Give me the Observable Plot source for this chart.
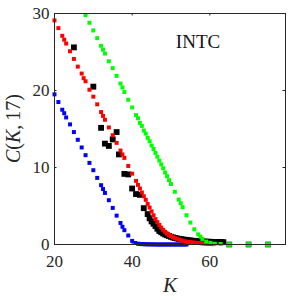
<!DOCTYPE html>
<html><head><meta charset="utf-8">
<script src="https://cdn.jsdelivr.net/npm/d3@7"></script>
<script src="https://cdn.jsdelivr.net/npm/@observablehq/plot@0.6"></script>
<style>body{margin:0;background:#fff}#chart{width:300px;height:300px}</style>
</head><body><div id="chart"></div>
<script>
// [K, C(K,17)]
const blue = [[20,19.5],[21,18.5],[22,17.5],[22.5,17.05],[23,16.5],[24,15.6],[25,14.6],[26,13.6],[27,12.6],[28,11.6],[29,10.6],[30,9.65],[31,8.65],[32,7.7],[32.5,7.2],[33,6.7],[34,5.75],[35,4.75],[36,3.75],[37,2.8],[37.5,2.3],[38,1.86],[39,1.17],[40,0.47],[40.8,0.2],[41.5,0.1],[42,0.07],[42.5,0.05],[43,0.04],[43.5,0.03],[44,0.02],[44.5,0.02],[45,0.01],[45.5,0.01],[46,0.01],[46.5,0],[47,0],[47.5,0],[48,0],[48.5,0],[49,0],[49.5,0],[50,0],[50.5,0],[51,0],[51.5,0],[52,0],[52.5,0],[53,0],[53.5,0],[54,0]];
const red = [[20,29.1],[21,28.1],[22,27.1],[22.5,26.6],[23,26.1],[24,25.1],[25,24.1],[26,23.1],[27,22.2],[27.5,21.6],[28,21.2],[29,20.1],[30,19.2],[31,18.2],[32,17.2],[32.5,16.7],[33,16.2],[34,15.2],[35,14.2],[36,13.2],[37,12.2],[37.5,11.7],[38,11.25],[39,10.2],[40,9.2],[41,8.26],[41.5,7.74],[42,7.27],[42.5,6.75],[43,6.27],[43.5,5.8],[44,5.27],[44.5,4.8],[45,4.3],[45.5,3.8],[46,3.3],[46.5,2.9],[47,2.55],[47.5,2.2],[48,1.9],[48.5,1.64],[49,1.43],[49.5,1.25],[50,1.1],[50.5,0.95],[51,0.85],[51.5,0.74],[52,0.65],[52.5,0.56],[53,0.48],[53.5,0.42],[54,0.37],[54.5,0.33],[55,0.3],[55.5,0.27],[56,0.24],[56.5,0.22],[57,0.2],[57.5,0.18],[58,0.16],[58.5,0.14],[59,0.12],[59.5,0.1],[60,0.08],[60.5,0.06],[61,0.05]];
const black = [[25,25.6],[30,20.5],[32,15.15],[33,13.1],[34,12.8],[35,13.65],[36,14.6],[36.6,11.7],[38,9.17],[39,9.1],[40,7.27],[41,6.55],[42,6.45],[43,4.72],[44,3.95],[44.5,3.4],[45,3.0],[45.5,2.7],[46,2.4],[46.5,2.05],[47,1.75],[47.5,1.6],[48,1.43],[48.5,1.3],[49,1.2],[49.5,1.1],[50,1.0],[50.5,0.92],[51,0.85],[51.5,0.79],[52,0.74],[52.5,0.7],[53,0.66],[53.5,0.62],[54,0.58],[54.5,0.55],[55,0.52],[55.5,0.49],[56,0.47],[56.5,0.45],[57,0.43],[57.5,0.41],[58,0.39],[58.5,0.38],[59,0.37],[59.5,0.36],[60,0.35],[60.5,0.34],[61,0.33],[61.5,0.33],[62,0.32],[62.5,0.32],[63,0.31],[63.5,0.3]];
const green = [[28,29.8],[29,28.8],[30,27.8],[31,26.8],[32,25.8],[32.5,25.3],[33,24.8],[34,23.8],[35,22.9],[36,21.9],[37,20.9],[37.5,20.4],[38,19.8],[39,18.8],[40,17.8],[41,16.8],[41.5,16.4],[42,15.8],[42.5,15.4],[43,14.8],[43.5,14.4],[44,13.85],[44.5,13.4],[45,12.85],[45.5,12.4],[46,11.9],[46.5,11.4],[47,10.9],[47.5,10.4],[48,9.9],[48.5,9.35],[49,8.87],[49.5,8.35],[50,7.85],[51,6.85],[52,5.84],[52.5,5.36],[53,4.85],[54,3.8],[55,2.85],[56,1.98],[57,1.32],[57.6,1.02],[58.1,0.72],[59.1,0.38],[60.2,0.22],[61.3,0.1],[62.8,0.06]];
const greenEnd = [[65,0],[70,0],[75,0]];
const xTicks = [20,40,60];
const yTicks = [0,10,20,30];
const title = "INTC";
const xLabel = "K";

const W=300, H=300, mL=54, mR=15, mT=13, mB=56;
const innerW = W-mL-mR, innerH = H-mT-mB;
const tk = 2.5;
const ink = "#262626";
const sq = (data, fill, r, extra={}) => Plot.dot(data, {x: d=>d[0], y: d=>d[1], symbol:"square", r, fill, stroke:null, ...extra});

const svg = Plot.plot({
  width:W, height:H, marginLeft:mL, marginRight:mR, marginTop:mT, marginBottom:mB,
  style:{fontFamily:"'Liberation Serif', serif", fontSize:"17px", background:"#fff", color:ink},
  x:{domain:[20,79.5]}, y:{domain:[0,30]},
  marks:[
    Plot.axisX(xTicks,{tickSize:0, tickPadding:10, label:null, tickFormat:d=>String(d)}),
    Plot.axisY(yTicks,{tickSize:0, tickPadding:5, label:null, tickFormat:d=>String(d)}),
    Plot.tickX(xTicks,{x:d=>d, insetTop:innerH-tk, stroke:ink}),
    Plot.tickX(xTicks,{x:d=>d, insetBottom:innerH-tk, stroke:ink}),
    Plot.tickY(yTicks,{y:d=>d, insetRight:innerW-tk, stroke:ink}),
    Plot.tickY(yTicks,{y:d=>d, insetLeft:innerW-tk, stroke:ink}),
    sq(blue, "#0000ff", 2.25),
    sq(black, "#000000", 3.3),
    sq(red, "#ff0000", 2.25),
    sq(green, "#00ff00", 2.25),
    sq(greenEnd, "#00ff00", 3.0, {stroke:"#555", strokeWidth:0.6}),
    Plot.frame({stroke:ink, strokeWidth:1}),
    Plot.text([title],{frameAnchor:"top", dx:28, dy:28.5, lineAnchor:"middle", text:d=>d, fontSize:19, fill:"#111"}),
    Plot.text([xLabel],{frameAnchor:"bottom", dy:41, lineAnchor:"middle", text:d=>d, fontSize:21, fontStyle:"italic", fill:ink})
  ]
});

// y label with mixed italic
const yl = d3.select(svg).append("text")
  .attr("transform", `translate(20,${mT+innerH/2}) rotate(-90)`)
  .attr("text-anchor","middle")
  .attr("font-family","'Liberation Serif', serif")
  .attr("font-size",20)
  .attr("fill",ink);
yl.append("tspan").attr("font-style","italic").text("C");
yl.append("tspan").text("(");
yl.append("tspan").attr("font-style","italic").text("K");
yl.append("tspan").text(",\u2009");
yl.append("tspan").text("17)");

document.getElementById("chart").appendChild(svg);
</script>
</body></html>
